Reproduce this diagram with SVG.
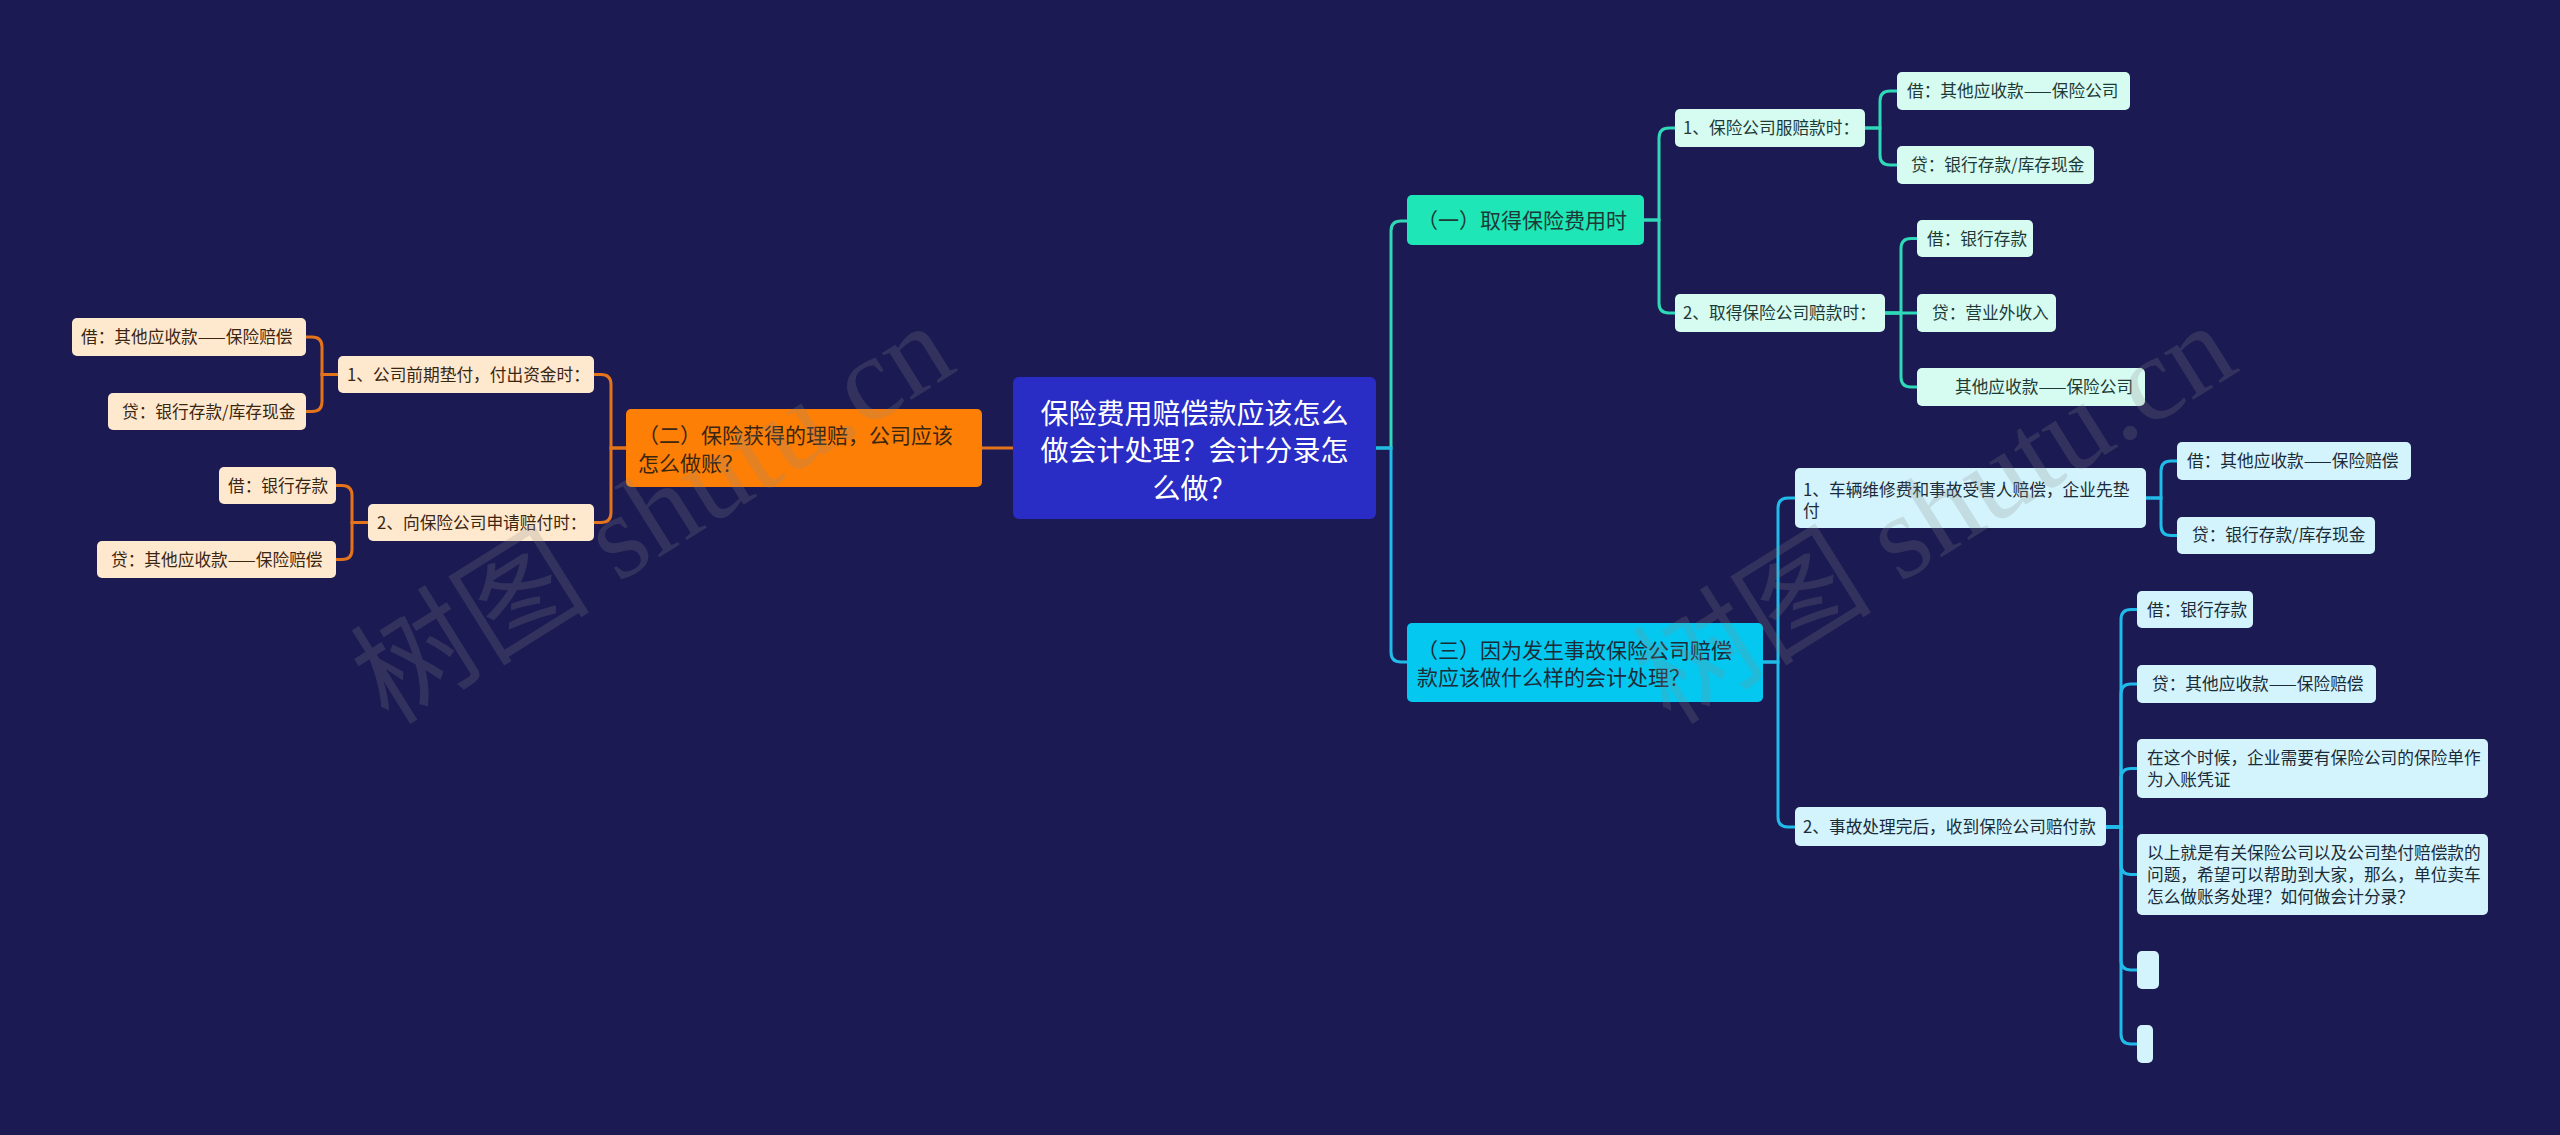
<svg xmlns="http://www.w3.org/2000/svg" width="2560" height="1135" viewBox="0 0 2560 1135">
<style>
text{font-family:"Noto Sans CJK SC","Noto Sans",sans-serif;}
.leaf{font-size:16.7px;}
.l1{font-size:21px;}
.root{font-size:28px;fill:#ffffff;}
.c-teal{fill:none;stroke:#2fd8b6;stroke-width:3;}
.c-cyan{fill:none;stroke:#20bbe9;stroke-width:3;}
.c-orange{fill:none;stroke:#e4741c;stroke-width:3;}
.b-teal{fill:#d6fbf1;}
.b-cyan{fill:#d3f4fc;}
.b-peach{fill:#fee9cf;}
.t-teal{fill:#1e3a36;}
.t-cyan{fill:#1c2b38;}
.t-peach{fill:#3b2612;}
.wm{font-family:"Liberation Serif","Noto Sans CJK SC",serif;font-size:120px;fill:#8a8a8a;opacity:0.22;}
</style>
<rect x="0" y="0" width="2560" height="1135" fill="#1b1a52"/>
<g id="connectors">
<path class="c-teal" d="M1376,448 H1391 V231 Q1391,221 1401,221 H1407"/>
<path class="c-cyan" d="M1376,448 H1391 V652 Q1391,662 1401,662 H1407"/>
<path class="c-orange" d="M1013,448 H982"/>
<path class="c-teal" d="M1644,220 H1659 V138 Q1659,128 1669,128 H1675"/>
<path class="c-teal" d="M1644,220 H1659 V303 Q1659,313 1669,313 H1675"/>
<path class="c-teal" d="M1865,128 H1880 V101 Q1880,91 1890,91 H1897"/>
<path class="c-teal" d="M1865,128 H1880 V155 Q1880,165 1890,165 H1897"/>
<path class="c-teal" d="M1885,313 H1901 V248.5 Q1901,238.5 1911,238.5 H1917"/>
<path class="c-teal" d="M1885,313 H1917"/>
<path class="c-teal" d="M1885,313 H1901 V377 Q1901,387 1911,387 H1917"/>
<path class="c-cyan" d="M1763,662 H1778 V508 Q1778,498 1788,498 H1795"/>
<path class="c-cyan" d="M1763,662 H1778 V817 Q1778,827 1788,827 H1795"/>
<path class="c-cyan" d="M2146,498 H2161 V471 Q2161,461 2171,461 H2177"/>
<path class="c-cyan" d="M2146,498 H2161 V525.5 Q2161,535.5 2171,535.5 H2177"/>
<path class="c-cyan" d="M2106,827 H2121 V619.5 Q2121,609.5 2131,609.5 H2137"/>
<path class="c-cyan" d="M2106,827 H2121 V694 Q2121,684 2131,684 H2137"/>
<path class="c-cyan" d="M2106,827 H2121 V778.5 Q2121,768.5 2131,768.5 H2137"/>
<path class="c-cyan" d="M2106,827 H2121 V864.5 Q2121,874.5 2131,874.5 H2137"/>
<path class="c-cyan" d="M2106,827 H2121 V960 Q2121,970 2131,970 H2137"/>
<path class="c-cyan" d="M2106,827 H2121 V1034 Q2121,1044 2131,1044 H2137"/>
<path class="c-orange" d="M626,448 H611 V384.5 Q611,374.5 601,374.5 H594"/>
<path class="c-orange" d="M626,448 H611 V512.5 Q611,522.5 601,522.5 H594"/>
<path class="c-orange" d="M338,374.5 H322 V347 Q322,337 312,337 H306"/>
<path class="c-orange" d="M338,374.5 H322 V401.5 Q322,411.5 312,411.5 H306"/>
<path class="c-orange" d="M368,522.5 H352 V495.5 Q352,485.5 342,485.5 H336"/>
<path class="c-orange" d="M368,522.5 H352 V549.5 Q352,559.5 342,559.5 H336"/>
</g>
<g id="root">
<rect x="1013" y="377" width="363" height="142" rx="6" fill="#2a2cc6"/>
<text class="root" text-anchor="middle"><tspan x="1194.5" y="424">保险费用赔偿款应该怎么</tspan><tspan x="1194.5" y="461">做会计处理？会计分录怎</tspan><tspan x="1194.5" y="499">么做？</tspan></text>
</g>
<g id="n1">
<rect x="1407" y="195" width="237" height="50" rx="5" fill="#1ee6b6"/>
<text class="l1 t-teal" x="1417" y="228">（一）取得保险费用时</text>
</g>
<g id="n1a">
<rect class="b-teal" x="1675" y="109" width="190" height="38" rx="5"/>
<text class="leaf t-teal" x="1683" y="134">1、保险公司服赔款时：</text>
</g>
<g id="n1a1">
<rect class="b-teal" x="1897" y="72" width="233" height="38" rx="5"/>
<text class="leaf t-teal" x="1907" y="97">借：其他应收款——保险公司</text>
</g>
<g id="n1a2">
<rect class="b-teal" x="1897" y="146" width="197" height="38" rx="5"/>
<text class="leaf t-teal" x="1911" y="171">贷：银行存款/库存现金</text>
</g>
<g id="n1b">
<rect class="b-teal" x="1675" y="294" width="210" height="38" rx="5"/>
<text class="leaf t-teal" x="1683" y="319">2、取得保险公司赔款时：</text>
</g>
<g id="n1b1">
<rect class="b-teal" x="1917" y="220" width="116" height="37" rx="5"/>
<text class="leaf t-teal" x="1927" y="245">借：银行存款</text>
</g>
<g id="n1b2">
<rect class="b-teal" x="1917" y="294" width="139" height="38" rx="5"/>
<text class="leaf t-teal" x="1932" y="319">贷：营业外收入</text>
</g>
<g id="n1b3">
<rect class="b-teal" x="1917" y="368" width="228" height="38" rx="5"/>
<text class="leaf t-teal" x="1955" y="393">其他应收款——保险公司</text>
</g>
<g id="n3">
<rect x="1407" y="623" width="356" height="79" rx="5" fill="#04c8f0"/>
<text class="l1 t-cyan"><tspan x="1417" y="658">（三）因为发生事故保险公司赔偿</tspan><tspan x="1417" y="685">款应该做什么样的会计处理？</tspan></text>
</g>
<g id="n3a">
<rect class="b-cyan" x="1795" y="468" width="351" height="60" rx="5"/>
<text class="leaf t-cyan"><tspan x="1803" y="496">1、车辆维修费和事故受害人赔偿，企业先垫</tspan><tspan x="1803" y="517">付</tspan></text>
</g>
<g id="n3a1">
<rect class="b-cyan" x="2177" y="442" width="234" height="38" rx="5"/>
<text class="leaf t-cyan" x="2187" y="467">借：其他应收款——保险赔偿</text>
</g>
<g id="n3a2">
<rect class="b-cyan" x="2177" y="517" width="198" height="37" rx="5"/>
<text class="leaf t-cyan" x="2192" y="541">贷：银行存款/库存现金</text>
</g>
<g id="n3b">
<rect class="b-cyan" x="1795" y="807" width="311" height="39" rx="5"/>
<text class="leaf t-cyan" x="1803" y="833">2、事故处理完后，收到保险公司赔付款</text>
</g>
<g id="n3b1">
<rect class="b-cyan" x="2137" y="591" width="116" height="37" rx="5"/>
<text class="leaf t-cyan" x="2147" y="616">借：银行存款</text>
</g>
<g id="n3b2">
<rect class="b-cyan" x="2137" y="665" width="239" height="38" rx="5"/>
<text class="leaf t-cyan" x="2152" y="690">贷：其他应收款——保险赔偿</text>
</g>
<g id="n3b3">
<rect class="b-cyan" x="2137" y="739" width="351" height="59" rx="5"/>
<text class="leaf t-cyan"><tspan x="2147" y="764">在这个时候，企业需要有保险公司的保险单作</tspan><tspan x="2147" y="786">为入账凭证</tspan></text>
</g>
<g id="n3b4">
<rect class="b-cyan" x="2137" y="834" width="351" height="81" rx="5"/>
<text class="leaf t-cyan"><tspan x="2147" y="859">以上就是有关保险公司以及公司垫付赔偿款的</tspan><tspan x="2147" y="881">问题，希望可以帮助到大家，那么，单位卖车</tspan><tspan x="2147" y="903">怎么做账务处理？如何做会计分录？</tspan></text>
</g>
<g id="n3b5">
<rect class="b-cyan" x="2137" y="951" width="22" height="38" rx="5"/>
</g>
<g id="n3b6">
<rect class="b-cyan" x="2137" y="1025" width="16" height="38" rx="5"/>
</g>
<g id="n2">
<rect x="626" y="409" width="356" height="78" rx="5" fill="#fd7f06"/>
<text class="l1 t-peach"><tspan x="638" y="443">（二）保险获得的理赔，公司应该</tspan><tspan x="638" y="471">怎么做账？</tspan></text>
</g>
<g id="n2a">
<rect class="b-peach" x="338" y="356" width="256" height="37" rx="5"/>
<text class="leaf t-peach" x="347" y="381">1、公司前期垫付，付出资金时：</text>
</g>
<g id="n2a1">
<rect class="b-peach" x="72" y="318" width="234" height="38" rx="5"/>
<text class="leaf t-peach" x="81" y="343">借：其他应收款——保险赔偿</text>
</g>
<g id="n2a2">
<rect class="b-peach" x="108" y="393" width="198" height="37" rx="5"/>
<text class="leaf t-peach" x="122" y="418">贷：银行存款/库存现金</text>
</g>
<g id="n2b">
<rect class="b-peach" x="368" y="504" width="226" height="37" rx="5"/>
<text class="leaf t-peach" x="377" y="529">2、向保险公司申请赔付时：</text>
</g>
<g id="n2b1">
<rect class="b-peach" x="219" y="467" width="117" height="37" rx="5"/>
<text class="leaf t-peach" x="228" y="492">借：银行存款</text>
</g>
<g id="n2b2">
<rect class="b-peach" x="97" y="541" width="239" height="37" rx="5"/>
<text class="leaf t-peach" x="111" y="566">贷：其他应收款——保险赔偿</text>
</g>
<g id="watermark">
<text class="wm" text-anchor="middle" transform="translate(653,514) rotate(-32)" y="40">树图 shutu.cn</text>
<text class="wm" text-anchor="middle" transform="translate(1935,514) rotate(-32)" y="40">树图 shutu.cn</text>
</g>
</svg>
